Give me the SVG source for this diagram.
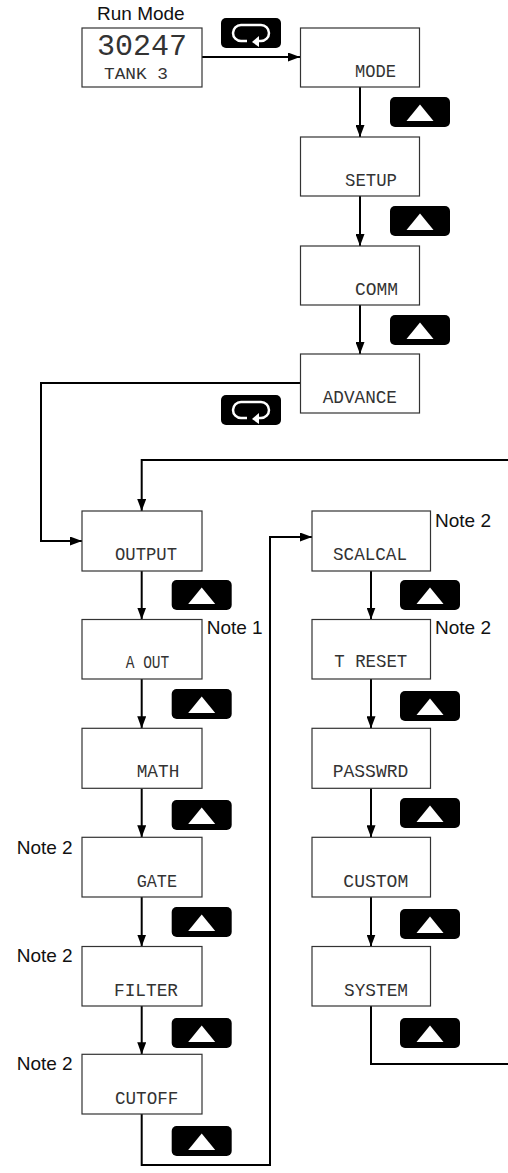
<svg xmlns="http://www.w3.org/2000/svg" xmlns:xlink="http://www.w3.org/1999/xlink" width="508" height="1173" viewBox="0 0 508 1173">
<style>
.box{fill:#fff;stroke:#333;stroke-width:1.2}
.lcd{font-family:"Liberation Mono","DejaVu Sans Mono",monospace;font-size:18.5px;fill:#333}
.lbl{font-family:"Liberation Sans",Arial,sans-serif;font-size:19px;fill:#111}
.con{fill:none;stroke:#000;stroke-width:2}
</style>
<defs>
<marker id="ah" viewBox="0 0 12 9" refX="12" refY="4.5" markerWidth="12" markerHeight="9" markerUnits="userSpaceOnUse" orient="auto"><path d="M0,0 L12,4.5 L0,9 z" fill="#000"/></marker>
<g id="up"><rect x="0" y="0" width="60" height="30" rx="5" fill="#000"/><path d="M30,7.5 L43.5,24 L16.5,24 z" fill="#fff"/></g>
<g id="loop"><rect x="0" y="0" width="60" height="30" rx="5" fill="#000"/><path d="M26,23 L20,23 A8,8 0 0 1 20,7 L40,7 A8,8 0 0 1 40,23 L37,23" fill="none" stroke="#fff" stroke-width="2.5"/><path d="M31,24 L38,18 L38,29 z" fill="#fff"/></g>
</defs>

<g id="connectors">
<path class="con" d="M202,57 L300,57" marker-end="url(#ah)"/>
<path class="con" d="M360,87 L360,137" marker-end="url(#ah)"/>
<path class="con" d="M360,196 L360,246" marker-end="url(#ah)"/>
<path class="con" d="M360,305 L360,354" marker-end="url(#ah)"/>
<path class="con" d="M300,383 L41,383 L41,541 L82,541" marker-end="url(#ah)"/>
<path class="con" d="M508,460 L141.7,460 L141.7,511" marker-end="url(#ah)"/>
<path class="con" d="M141.7,571 L141.7,619.5" marker-end="url(#ah)"/>
<path class="con" d="M141.7,679 L141.7,728.3" marker-end="url(#ah)"/>
<path class="con" d="M141.7,788.3 L141.7,837.3" marker-end="url(#ah)"/>
<path class="con" d="M141.7,897 L141.7,946.5" marker-end="url(#ah)"/>
<path class="con" d="M141.7,1006 L141.7,1054.3" marker-end="url(#ah)"/>
<path class="con" d="M141.7,1114 L141.7,1165 L270,1165 L270,537 L312,537" marker-end="url(#ah)"/>
<path class="con" d="M371,571 L371,619.5" marker-end="url(#ah)"/>
<path class="con" d="M371,679 L371,728.3" marker-end="url(#ah)"/>
<path class="con" d="M371,788.3 L371,837.3" marker-end="url(#ah)"/>
<path class="con" d="M371,897 L371,946.5" marker-end="url(#ah)"/>
<path class="con" d="M371,1006 L371,1064 L508,1064"/>
</g>

<g id="buttons">
<use xlink:href="#loop" x="221" y="18"/>
<use xlink:href="#up" x="390" y="97"/>
<use xlink:href="#up" x="390" y="206"/>
<use xlink:href="#up" x="390" y="315"/>
<use xlink:href="#loop" x="221" y="395"/>
<use xlink:href="#up" x="171.7" y="580"/>
<use xlink:href="#up" x="171.7" y="689"/>
<use xlink:href="#up" x="171.7" y="800"/>
<use xlink:href="#up" x="171.7" y="907"/>
<use xlink:href="#up" x="171.7" y="1018"/>
<use xlink:href="#up" x="171.7" y="1126"/>
<use xlink:href="#up" x="400" y="580"/>
<use xlink:href="#up" x="400" y="691"/>
<use xlink:href="#up" x="400" y="798"/>
<use xlink:href="#up" x="400" y="909"/>
<use xlink:href="#up" x="400" y="1018"/>
</g>

<g id="runmode">
<text class="lbl" x="97" y="20">Run Mode</text>
<rect class="box" x="82" y="28" width="120" height="59"/>
<text x="97" y="55" font-family="Liberation Mono, DejaVu Sans Mono, monospace" font-size="29" fill="#333" textLength="90" lengthAdjust="spacingAndGlyphs">30247</text>
<text class="lcd" x="104" y="79" font-size="16" style="font-size:16px" textLength="64" lengthAdjust="spacingAndGlyphs">TANK 3</text>
</g>

<g id="mode"><rect class="box" x="300.5" y="28" width="119" height="59"/><text class="lcd" x="355" y="77" textLength="41" lengthAdjust="spacingAndGlyphs">MODE</text></g>
<g id="setup"><rect class="box" x="300.5" y="137" width="119" height="59"/><text class="lcd" x="345" y="186" textLength="52" lengthAdjust="spacingAndGlyphs">SETUP</text></g>
<g id="comm"><rect class="box" x="300.5" y="246" width="119" height="59"/><text class="lcd" x="355" y="295" textLength="43" lengthAdjust="spacingAndGlyphs">COMM</text></g>
<g id="advance"><rect class="box" x="300.5" y="354" width="119" height="59"/><text class="lcd" x="322.7" y="402.7" textLength="74.3" lengthAdjust="spacingAndGlyphs">ADVANCE</text></g>

<g id="output"><rect class="box" x="82" y="511" width="120" height="60"/><text class="lcd" x="115" y="559.5" textLength="62" lengthAdjust="spacingAndGlyphs">OUTPUT</text></g>
<g id="aout"><rect class="box" x="82" y="619.5" width="120" height="59.5"/><text class="lcd" x="125.7" y="668.3" textLength="43.6" lengthAdjust="spacingAndGlyphs">A OUT</text><text class="lbl" x="206.7" y="634">Note 1</text></g>
<g id="math"><rect class="box" x="82" y="728.3" width="120" height="60"/><text class="lcd" x="136.7" y="777" textLength="42.6" lengthAdjust="spacingAndGlyphs">MATH</text></g>
<g id="gate"><rect class="box" x="82" y="837.3" width="120" height="59.7"/><text class="lcd" x="136.7" y="886.7" textLength="40.3" lengthAdjust="spacingAndGlyphs">GATE</text><text class="lbl" x="16.7" y="854">Note 2</text></g>
<g id="filter"><rect class="box" x="82" y="946.5" width="120" height="59.5"/><text class="lcd" x="114" y="996" textLength="64" lengthAdjust="spacingAndGlyphs">FILTER</text><text class="lbl" x="16.7" y="962">Note 2</text></g>
<g id="cutoff"><rect class="box" x="82" y="1054.3" width="120" height="59.7"/><text class="lcd" x="115" y="1103.5" textLength="63.3" lengthAdjust="spacingAndGlyphs">CUTOFF</text><text class="lbl" x="16.7" y="1070">Note 2</text></g>

<g id="scalcal"><rect class="box" x="312" y="511" width="118.5" height="60"/><text class="lcd" x="333" y="559.5" textLength="74" lengthAdjust="spacingAndGlyphs">SCALCAL</text><text class="lbl" x="435" y="526.7">Note 2</text></g>
<g id="treset"><rect class="box" x="312" y="619.5" width="118.5" height="59.5"/><text class="lcd" x="334.3" y="667" textLength="73" lengthAdjust="spacingAndGlyphs">T RESET</text><text class="lbl" x="435" y="634">Note 2</text></g>
<g id="passwrd"><rect class="box" x="312" y="728.3" width="118.5" height="60"/><text class="lcd" x="332.7" y="777" textLength="75.6" lengthAdjust="spacingAndGlyphs">PASSWRD</text></g>
<g id="custom"><rect class="box" x="312" y="837.3" width="118.5" height="59.7"/><text class="lcd" x="343.3" y="886.7" textLength="65" lengthAdjust="spacingAndGlyphs">CUSTOM</text></g>
<g id="system"><rect class="box" x="312" y="946.5" width="118.5" height="59.5"/><text class="lcd" x="344" y="996" textLength="64" lengthAdjust="spacingAndGlyphs">SYSTEM</text></g>
</svg>
